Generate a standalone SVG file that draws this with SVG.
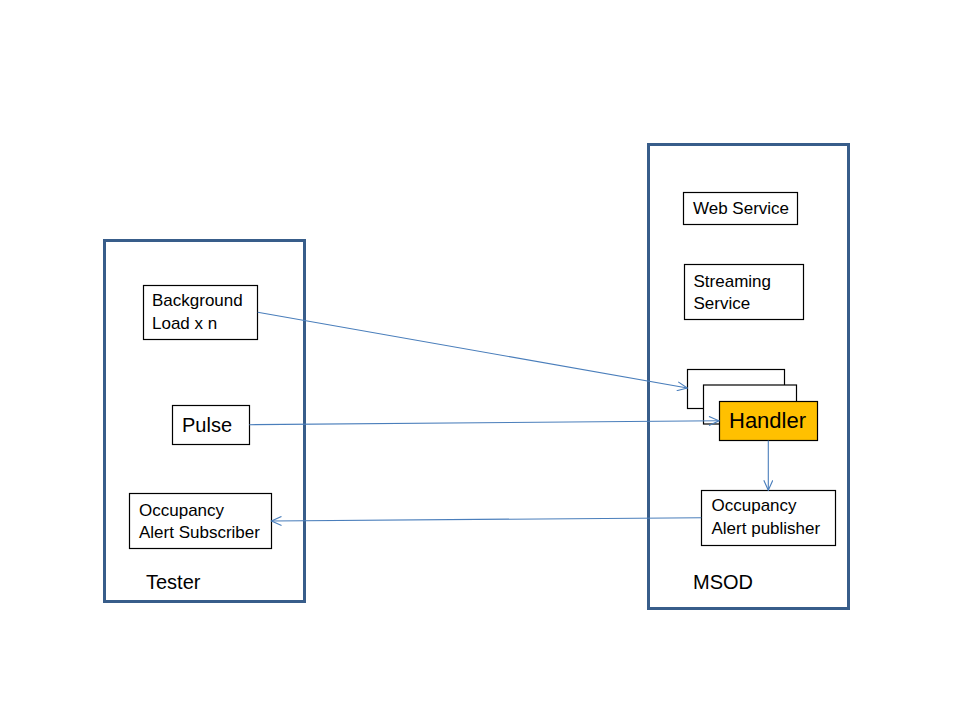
<svg xmlns="http://www.w3.org/2000/svg" width="960" height="720" viewBox="0 0 960 720">
<style>
.container{fill:#fff;stroke:#385D8A;stroke-width:3}
.box{fill:#fff;stroke:#000;stroke-width:1.2}
.hl{fill:#FFC000;stroke:#000;stroke-width:1.2}
.t{font-family:"Liberation Sans",Arial,sans-serif;font-size:17px;fill:#000}
.big{font-size:20px}
.conn{stroke:#4A7EBB;stroke-width:1.1;fill:none;marker-end:url(#arr)}
</style>
<defs>
<marker id="arr" viewBox="0 0 12 10" refX="11" refY="5" markerWidth="12" markerHeight="10" markerUnits="userSpaceOnUse" orient="auto">
<path d="M1,0.5 L11,5 L1,9.5" fill="none" stroke="#4A7EBB" stroke-width="1.1"/>
</marker>
</defs>
<rect width="960" height="720" fill="#fff"/>
<g id="tester">
<rect class="container" x="104.5" y="240.5" width="200" height="361"/>
<text class="t big" x="146" y="589">Tester</text>
</g>
<g id="msod">
<rect class="container" x="648.5" y="144.5" width="200" height="464"/>
<text class="t big" x="693" y="589">MSOD</text>
</g>
<g id="background-load">
<rect class="box" x="143.5" y="285.5" width="114" height="54"/>
<text class="t" x="152" y="306">Background</text>
<text class="t" x="152" y="328.5">Load x n</text>
</g>
<g id="pulse">
<rect class="box" x="172.5" y="405.5" width="77" height="39"/>
<text class="t big" x="182" y="431.5">Pulse</text>
</g>
<g id="occupancy-subscriber">
<rect class="box" x="129.5" y="493.5" width="142" height="55"/>
<text class="t" x="139" y="515.5">Occupancy</text>
<text class="t" x="139" y="538">Alert Subscriber</text>
</g>
<g id="web-service">
<rect class="box" x="683.5" y="192.5" width="114" height="32"/>
<text class="t" x="693" y="214">Web Service</text>
</g>
<g id="streaming-service">
<rect class="box" x="684.5" y="264.5" width="119" height="55"/>
<text class="t" x="693.5" y="286.5">Streaming</text>
<text class="t" x="693.5" y="309">Service</text>
</g>
<g id="handler">
<rect class="box" x="687.5" y="369.5" width="97" height="39"/>
<rect class="box" x="703.5" y="385" width="93" height="39"/>
<rect class="hl" x="719.5" y="401.5" width="98" height="39"/>
<text class="t" style="font-size:22px" x="729" y="428">Handler</text>
</g>
<g id="occupancy-publisher">
<rect class="box" x="701.5" y="490.5" width="134" height="55"/>
<text class="t" x="711.5" y="511">Occupancy</text>
<text class="t" x="711.5" y="533.5">Alert publisher</text>
</g>
<g id="connectors">
<line class="conn" x1="257.7" y1="312.3" x2="687.3" y2="388"/>
<line class="conn" x1="249.3" y1="424.7" x2="719" y2="420.8"/>
<line class="conn" x1="768.3" y1="440.5" x2="768.3" y2="490.3"/>
<line class="conn" x1="701.3" y1="517.7" x2="271.5" y2="521"/>
</g>
</svg>
